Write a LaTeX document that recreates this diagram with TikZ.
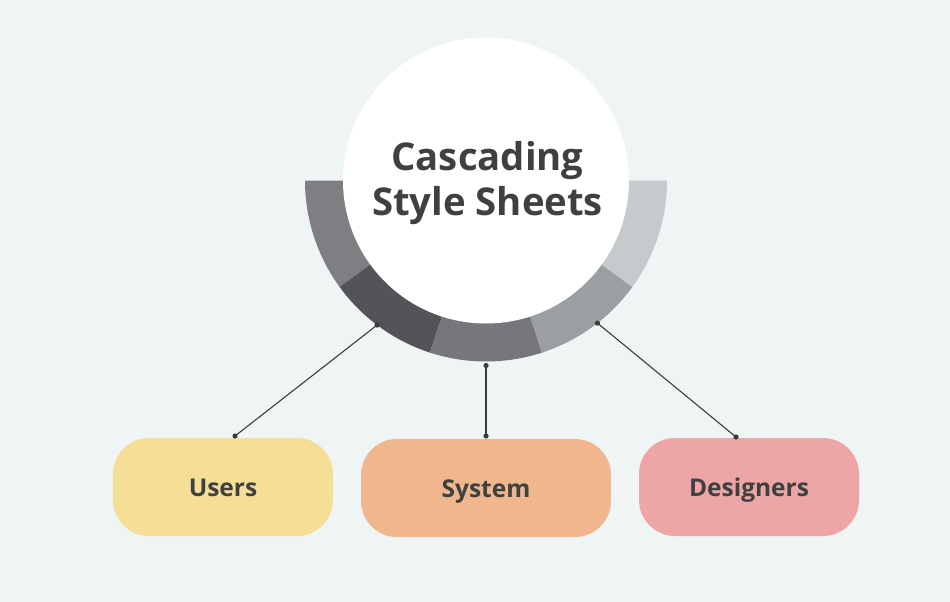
\documentclass[tikz,border=0pt]{standalone}
\usepackage{fontspec}
\setmainfont{Open Sans}
\usetikzlibrary{calc}
\definecolor{bg}{HTML}{EEF5F4}
\definecolor{segA}{HTML}{7F7F83}
\definecolor{segB}{HTML}{545458}
\definecolor{segC}{HTML}{77777B}
\definecolor{segD}{HTML}{9B9FA2}
\definecolor{segE}{HTML}{C5CACD}
\definecolor{txt}{HTML}{404040}
\definecolor{yel}{HTML}{F5DF96}
\definecolor{ora}{HTML}{F0B68E}
\definecolor{pnk}{HTML}{EDA6A5}
\definecolor{ln}{HTML}{3C3C3C}
\tikzset{
  pill/.style={rounded corners=36pt, minimum height=98pt, inner sep=0pt, text=txt,
    text height=18pt, text depth=0pt, font=\fontsize{24.5}{28}\selectfont\bfseries},
  link/.style={draw=ln, line width=1.1pt},
  dot/.style={fill=ln}
}
\begin{document}
\begin{tikzpicture}[x=1pt,y=-1pt]
\fill[bg] (0,0) rectangle (950,602);
\useasboundingbox (0,0) rectangle (950,602);
\coordinate (c) at (486,180.5);
% ring segments
\foreach \a/\b/\col in {180/144/segA,144/108/segB,108/72/segC,72/36/segD,36/0/segE}{
  \fill[\col] (c) -- +(\a:181) arc[start angle=\a, end angle=\b, radius=181] -- cycle;
}
\node[circle, fill=white, minimum size=286pt, inner sep=0pt] (hub) at (c) {};
\node[text=txt, align=center, font=\fontsize{38.3}{45}\selectfont\bfseries] (title) at (487.5,183.5) {Cascading\\Style Sheets};
% boxes
\node[pill, fill=yel, minimum width=220pt] (users) at (223,487) {Users};
\node[pill, fill=ora, minimum width=250pt] (system) at (486,488) {System};
\node[pill, fill=pnk, minimum width=220pt] (designers) at (749,487) {Designers};
% anchor points
\coordinate (r1) at ($(c)+(127:181)$);
\coordinate (r2) at (486,365.5);
\coordinate (r3) at ($(c)+(52:181)$);
\coordinate (b1) at (235,436);
\coordinate (b2) at (486,436);
\coordinate (b3) at (736,437);
\foreach \p/\q in {r1/b1,r2/b2,r3/b3}{
  \draw[link] (\p) -- (\q);
  \fill[dot] (\p) circle (2.6);
  \fill[dot] (\q) circle (2.6);
}
\end{tikzpicture}
\end{document}
